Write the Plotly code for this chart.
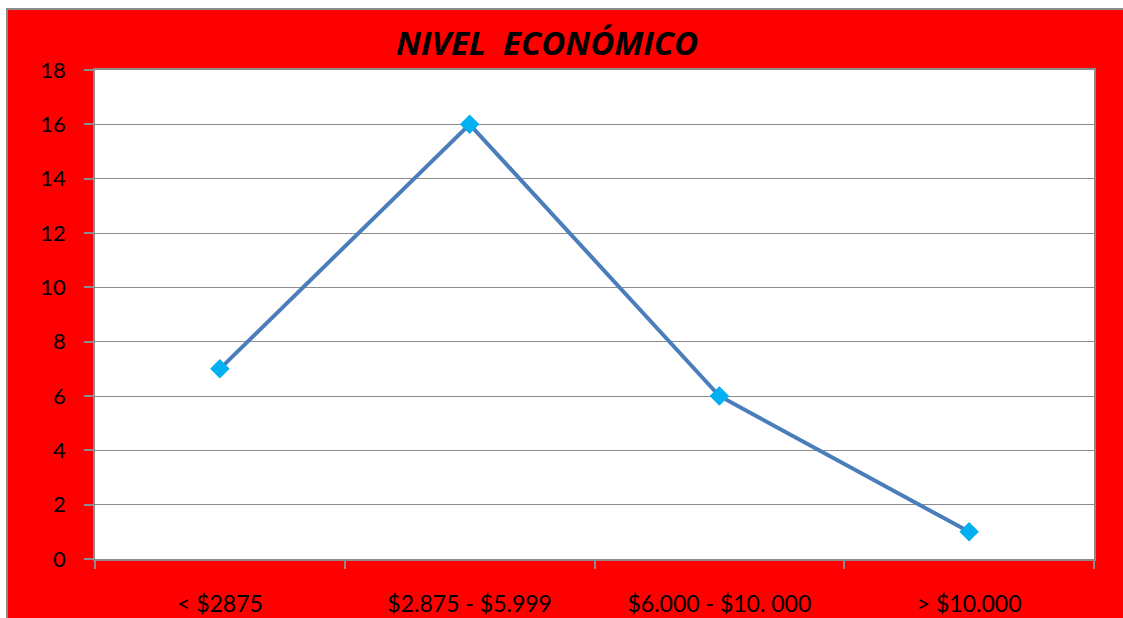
import plotly.graph_objects as go

categories = ["< $2875", "$2.875 - $5.999", "$6.000 - $10. 000", "> $10.000"]
values = [7, 16, 6, 1]
y_ticks = [0, 2, 4, 6, 8, 10, 12, 14, 16, 18]
title_text = "<b><i>NIVEL  ECONÓMICO</i></b>"

W, H = 1123, 618
L, R, T, B = 95, 1094, 70, 559
pw, ph = R - L, B - T

def px_x(p):
    return (p - L) / pw

def px_y(p):
    return (B - p) / ph

xs = list(range(len(categories)))

fig = go.Figure()
fig.add_trace(go.Scatter(
    x=xs, y=values, mode="lines+markers",
    line=dict(color="#4a7ebb", width=4),
    marker=dict(symbol="diamond", size=15, color="#00b0f0"),
    showlegend=False,
))

gray = "#8c8c8c"
fig.update_layout(
    width=W, height=H,
    margin=dict(l=L, r=W - R, t=T, b=H - B),
    paper_bgcolor="white",
    plot_bgcolor="white",
    font=dict(family="Lato", color="black", size=22),
    shapes=[
        dict(type="rect", xref="paper", yref="paper", layer="below",
             x0=px_x(7), x1=px_x(1135), y0=px_y(630), y1=px_y(9),
             fillcolor="#ff0000", line=dict(color=gray, width=2)),
        dict(type="rect", xref="paper", yref="paper", layer="below",
             x0=0, x1=1, y0=0, y1=1,
             fillcolor="white", line=dict(width=0)),
    ],
    annotations=[
        dict(text=title_text, xref="paper", yref="paper",
             x=px_x(547), y=px_y(42), xanchor="center", yanchor="middle",
             showarrow=False, font=dict(family="Open Sans", size=33, color="black")),
    ],
)
fig.update_xaxes(
    range=[-0.5, len(categories) - 0.5],
    tickvals=xs, ticktext=categories,
    ticks="", showgrid=False, zeroline=False, automargin=False,
    showline=True, linecolor=gray, linewidth=1.5, mirror=True,
    ticklabelstandoff=24,
    minor=dict(tickvals=[i - 0.5 for i in range(len(categories) + 1)],
               ticks="outside", ticklen=8, tickcolor=gray, tickwidth=1.5, showgrid=False),
    tickfont=dict(size=23, color="black"),
)
fig.update_yaxes(
    range=[0, 18], tickvals=y_ticks,
    ticks="outside", ticklen=9, tickcolor=gray, tickwidth=1.5,
    showgrid=True, gridcolor=gray, gridwidth=1,
    zeroline=False, automargin=False,
    showline=True, linecolor=gray, linewidth=1.5, mirror=True,
    ticklabelstandoff=14,
    tickfont=dict(size=22, color="black"),
)

fig.write_html("out.html")
